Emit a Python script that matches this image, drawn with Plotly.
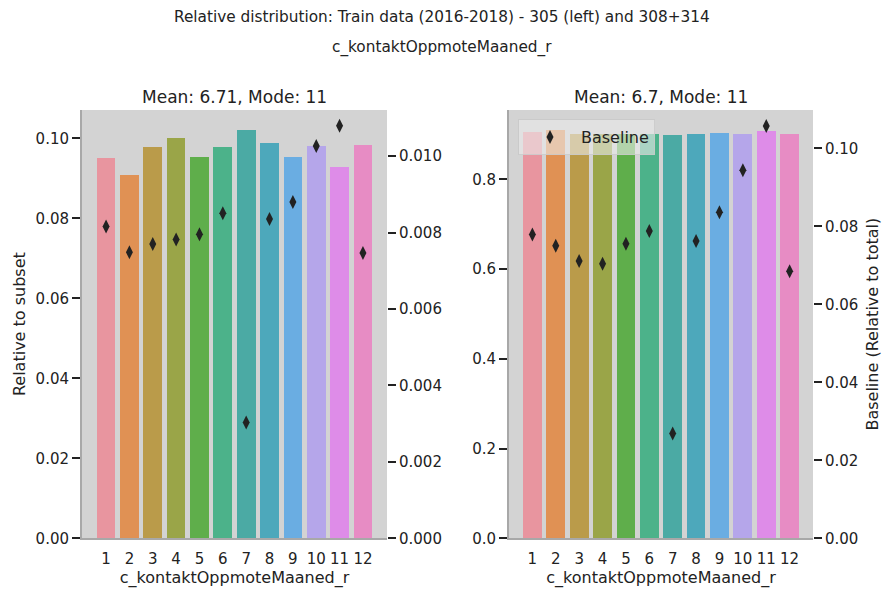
import plotly.graph_objects as go

categories = ["1", "2", "3", "4", "5", "6", "7", "8", "9", "10", "11", "12"]
left_subset = [0.0950, 0.0909, 0.0978, 0.1001, 0.0953, 0.0978, 0.1020, 0.0988, 0.0953, 0.0981, 0.0928, 0.0984]
left_baseline = [0.00816, 0.00749, 0.00770, 0.00782, 0.00796, 0.00851, 0.00303, 0.00836, 0.00880, 0.01027, 0.01080, 0.00747]
right_subset = [0.906, 0.909, 0.902, 0.902, 0.902, 0.902, 0.898, 0.902, 0.904, 0.902, 0.907, 0.902]
right_baseline = [0.0779, 0.0750, 0.0711, 0.0704, 0.0755, 0.0788, 0.0269, 0.0762, 0.0836, 0.0944, 0.1057, 0.0685]
bar_colors = ["#E8959F", "#E09154", "#BA9B4A", "#9AA548", "#5FAE4B", "#4CB28A",
              "#4BAAA4", "#4DA8BB", "#6AADE2", "#B5A6EA", "#DE8CE8", "#E78CC4"]

suptitle = "Relative distribution: Train data (2016-2018) - 305 (left) and 308+314"
subtitle = "c_kontaktOppmoteMaaned_r"
left_title = "Mean: 6.71, Mode: 11"
right_title = "Mean: 6.7, Mode: 11"
xlabel = "c_kontaktOppmoteMaaned_r"

FONT = "DejaVu Sans"
W, H = 884, 589
xi = list(range(len(categories)))

fig = go.Figure()
fig.add_trace(go.Bar(x=xi, y=left_subset, marker=dict(color=bar_colors, line=dict(width=0)),
                     width=0.8, xaxis="x", yaxis="y", showlegend=False))
fig.add_trace(go.Scatter(x=xi, y=left_baseline, mode="markers", xaxis="x", yaxis="y2",
                         marker=dict(symbol="diamond-tall", size=10, color="#222222"),
                         showlegend=False))
fig.add_trace(go.Bar(x=xi, y=right_subset, marker=dict(color=bar_colors, line=dict(width=0)),
                     width=0.8, xaxis="x2", yaxis="y3", showlegend=False))
fig.add_trace(go.Scatter(x=xi, y=right_baseline, mode="markers", xaxis="x2", yaxis="y4",
                         name="Baseline",
                         marker=dict(symbol="diamond-tall", size=10, color="#222222"),
                         showlegend=True))

tickfont = dict(family=FONT, size=15, color="#222")
ld = [82 / W, 387 / W]
rd = [509 / W, 813 / W]
yd = [1 - 538.3 / H, 1 - 110 / H]
spine = "#A8A8A8"

xcommon = dict(tickmode="array", tickvals=xi, ticktext=categories, showgrid=False,
               zeroline=False, ticks="", tickfont=tickfont, showline=True, automargin=False,
               linecolor=spine, linewidth=2, ticklabelstandoff=6,
               title=dict(text=xlabel, font=dict(family=FONT, size=16, color="#222"), standoff=4))
ycommon = dict(showgrid=False, zeroline=False, ticks="outside", ticklen=8, tickwidth=2,
               tickcolor="#222", tickfont=tickfont, automargin=False)

fig.update_layout(
    width=W, height=H,
    margin=dict(l=0, r=0, t=0, b=0),
    paper_bgcolor="white",
    plot_bgcolor="#D3D3D3",
    bargap=0,
    xaxis=dict(domain=ld, range=[-1.03, 12.03], anchor="y", **xcommon),
    yaxis=dict(domain=yd, range=[0, 0.1071], dtick=0.02, tickformat=".2f", anchor="x",
               showline=True, linecolor=spine, linewidth=2,
               title=dict(text="Relative to subset", font=dict(family=FONT, size=16, color="#222"), standoff=6),
               **ycommon),
    yaxis2=dict(overlaying="y", side="right", anchor="x", range=[0, 0.01121], dtick=0.002,
                tickformat=".3f", showline=False, **ycommon),
    xaxis2=dict(domain=rd, range=[-1.0, 12.0], anchor="y3", **xcommon),
    yaxis3=dict(domain=yd, range=[0, 0.9544], dtick=0.2, tickformat=".1f", anchor="x2",
                showline=True, linecolor=spine, linewidth=2, **ycommon),
    yaxis4=dict(overlaying="y3", side="right", anchor="x2", range=[0, 0.10982], dtick=0.02,
                tickformat=".2f", showline=False,
                title=dict(text="Baseline (Relative to total)", font=dict(family=FONT, size=16, color="#222"), standoff=9),
                **ycommon),
    legend=dict(x=518 / W, y=1 - 119 / H, xanchor="left", yanchor="top", itemwidth=52,
                bgcolor="rgba(235,235,235,0.6)", bordercolor="rgba(200,200,200,0.8)", borderwidth=1,
                font=dict(family=FONT, size=16, color="#222")),
    font=dict(family=FONT, color="#222"),
)

ann = [
    dict(text=suptitle, x=0.5, y=1 - 17 / H, size=15.3),
    dict(text=subtitle, x=0.5, y=1 - 48 / H, size=15.3),
    dict(text=left_title, x=(ld[0] + ld[1]) / 2, y=1 - 97 / H, size=17),
    dict(text=right_title, x=(rd[0] + rd[1]) / 2, y=1 - 97 / H, size=17),
]
for a in ann:
    fig.add_annotation(text=a["text"], x=a["x"], y=a["y"], xref="paper", yref="paper",
                       xanchor="center", yanchor="middle", showarrow=False,
                       font=dict(family=FONT, size=a["size"], color="#222"))

fig.write_html("out.html")
